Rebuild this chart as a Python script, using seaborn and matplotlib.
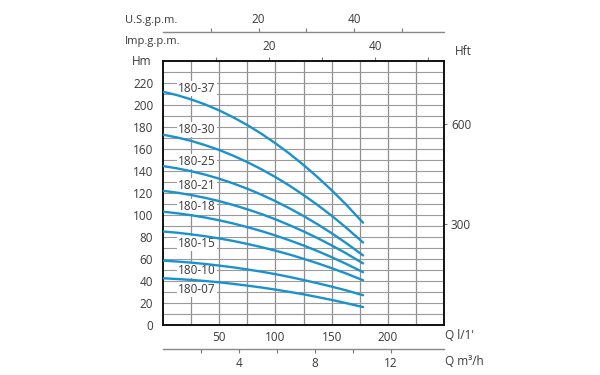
import matplotlib
matplotlib.use("Agg")
import matplotlib.pyplot as plt
import seaborn as sns
import pandas as pd

# ---- data ----
flow_lpm = [0, 12.5, 25, 37.5, 50, 62.5, 75, 87.5, 100, 112.5, 125, 137.5, 150, 162.5, 178]
models = ["180-37", "180-30", "180-25", "180-21", "180-18", "180-15", "180-10", "180-07"]
h_180_37 = [212, 209.0, 205.1, 200.5, 195.1, 188.8, 181.8, 173.9, 165.2, 155.8, 145.5, 134.4, 122.6, 109.9, 93]
h_180_30 = [173, 170.5, 167.4, 163.5, 159.1, 153.9, 148.1, 141.6, 134.5, 126.7, 118.2, 109.1, 99.4, 88.9, 75]
h_180_25 = [144.5, 142.4, 139.8, 136.7, 133.0, 128.7, 123.9, 118.5, 112.6, 106.1, 99.1, 91.6, 83.5, 74.8, 63.3]
h_180_21 = [122, 120.3, 118.2, 115.6, 112.6, 109.1, 105.2, 100.9, 96.1, 90.8, 85.1, 79.0, 72.4, 65.4, 56]
h_180_18 = [103, 101.6, 99.8, 97.7, 95.2, 92.3, 89.0, 85.4, 81.4, 77.0, 72.3, 67.2, 61.7, 55.8, 48]
h_180_15 = [85, 83.9, 82.4, 80.7, 78.7, 76.4, 73.7, 70.8, 67.6, 64.1, 60.2, 56.1, 51.7, 47.0, 40.7]
h_180_10 = [58.5, 57.7, 56.7, 55.5, 54.0, 52.4, 50.5, 48.5, 46.2, 43.7, 40.9, 38.0, 34.9, 31.6, 27.1]
h_180_07 = [42.5, 41.8, 41.0, 40.0, 38.8, 37.4, 35.8, 34.1, 32.2, 30.1, 27.9, 25.4, 22.8, 20.0, 16.3]
heads = [h_180_37, h_180_30, h_180_25, h_180_21, h_180_18, h_180_15, h_180_10, h_180_07]

y_ticks_m = [0, 20, 40, 60, 80, 100, 120, 140, 160, 180, 200, 220]
x_ticks_lpm = [50, 100, 150, 200]
ft_ticks = [300, 600]
usgpm_ticks = [10, 20, 30, 40, 50]
usgpm_labels = ["", "20", "", "40", ""]
impgpm_ticks = [10, 20, 30, 40, 50]
impgpm_labels = ["", "20", "", "40", ""]
m3h_ticks = [2, 4, 6, 8, 10, 12]
m3h_labels = ["", "4", "", "8", "", "12"]

# label vertical offsets (layout only)
label_dy = [10, 10, 9, 9, 8, -8, -7, -9]

rows = []
for m, h in zip(models, heads):
    for q, v in zip(flow_lpm, h):
        rows.append({"Q": q, "H": v, "model": m})
df = pd.DataFrame(rows)

# ---- style ----
sns.set_style("white")
plt.rcParams["font.family"] = ["Open Sans", "DejaVu Sans"]
txt = "#3a3a3a"
blue = "#1b92cc"
fs = 8.5

fig = plt.figure(figsize=(6, 3.75), dpi=100)
ax = fig.add_axes([163 / 600, 50 / 375, 281 / 600, 264 / 375])

ax.set_xlim(0, 250)
ax.set_ylim(0, 240)

# grid
for x in range(25, 250, 25):
    ax.axvline(x, color="#8f8f8f", lw=0.9, zorder=0)
for y in range(10, 240, 10):
    ax.axhline(y, color="#9a9a9a", lw=0.8, zorder=0)

sns.lineplot(data=df, x="Q", y="H", hue="model", palette=[blue] * len(models),
             legend=False, lw=1.7, ax=ax, zorder=3)

# curve labels (above grid, below curves)
for m, h, dy in zip(models, heads, label_dy):
    ax.text(30, h[2] + dy, m, ha="center", va="center", fontsize=fs, color=txt,
            zorder=2, bbox=dict(facecolor="white", edgecolor="none", pad=0.8))

for s in ax.spines.values():
    s.set_color("#111111")
    s.set_linewidth(1.4)
    s.set_visible(True)

ax.set_xticks(x_ticks_lpm)
ax.set_xticklabels([str(v) for v in x_ticks_lpm])
ax.set_yticks(y_ticks_m)
ax.set_yticklabels([str(v) for v in y_ticks_m])
ax.tick_params(axis="both", length=0, labelsize=fs, labelcolor=txt)
ax.tick_params(axis="x", pad=4)
ax.tick_params(axis="y", pad=7)
ax.set_xlabel("")
ax.set_ylabel("")

# axis captions
ax.text(-0.075, 0.997, "Hm", transform=ax.transAxes, ha="center", va="center", fontsize=fs, color=txt)
ax.text(1.005, -0.04, "Q l/1'", transform=ax.transAxes, ha="left", va="center", fontsize=fs, color=txt)
ax.text(1.005, -0.137, "Q m³/h", transform=ax.transAxes, ha="left", va="center", fontsize=fs, color=txt)
ax.text(1.04, 1.035, "Hft", transform=ax.transAxes, ha="left", va="center", fontsize=fs, color=txt)
ax.text(-0.135, 1.072, "Imp.g.p.m.", transform=ax.transAxes, ha="left", va="center", fontsize=fs - 0.5, color=txt)
ax.text(-0.135, 1.155, "U.S.g.p.m.", transform=ax.transAxes, ha="left", va="center", fontsize=fs - 0.5, color=txt)

# right axis: feet
M2FT = 3.28084
axr = ax.secondary_yaxis("right", functions=(lambda m: m * M2FT, lambda f: f / M2FT))
axr.set_yticks(ft_ticks)
axr.set_yticklabels([str(v) for v in ft_ticks])
axr.tick_params(length=2, width=0.8, color="#777777", labelsize=fs, labelcolor=txt, pad=3)
axr.spines["right"].set_visible(False)

# top: Imp gpm ticks on frame
K_IMP = 4.72
axi = ax.secondary_xaxis("top", functions=(lambda q: q / K_IMP, lambda g: g * K_IMP))
axi.set_xticks(impgpm_ticks)
axi.set_xticklabels(impgpm_labels)
axi.tick_params(length=3, width=0.8, color="#777777", labelsize=fs, labelcolor=txt, pad=3)
axi.spines["top"].set_visible(False)

# top: US gpm line
K_US = 4.25
axu = ax.secondary_xaxis(1.11, functions=(lambda q: q / K_US, lambda g: g * K_US))
axu.set_xticks(usgpm_ticks)
axu.set_xticklabels(usgpm_labels)
axu.tick_params(length=3, width=0.8, color="#777777", labelsize=fs, labelcolor=txt, pad=1)
axu.spines["top"].set_color("#888888")
axu.spines["top"].set_linewidth(1.0)

# bottom: m3/h line
K_M3 = 16.9
axm = ax.secondary_xaxis(-0.091, functions=(lambda q: q / K_M3, lambda v: v * K_M3))
axm.set_xticks(m3h_ticks)
axm.set_xticklabels(m3h_labels)
axm.tick_params(length=3, width=0.8, color="#777777", labelsize=fs, labelcolor=txt, pad=3)
axm.spines["bottom"].set_color("#888888")
axm.spines["bottom"].set_linewidth(1.0)

fig.savefig("out.png", dpi=100, facecolor="white")
